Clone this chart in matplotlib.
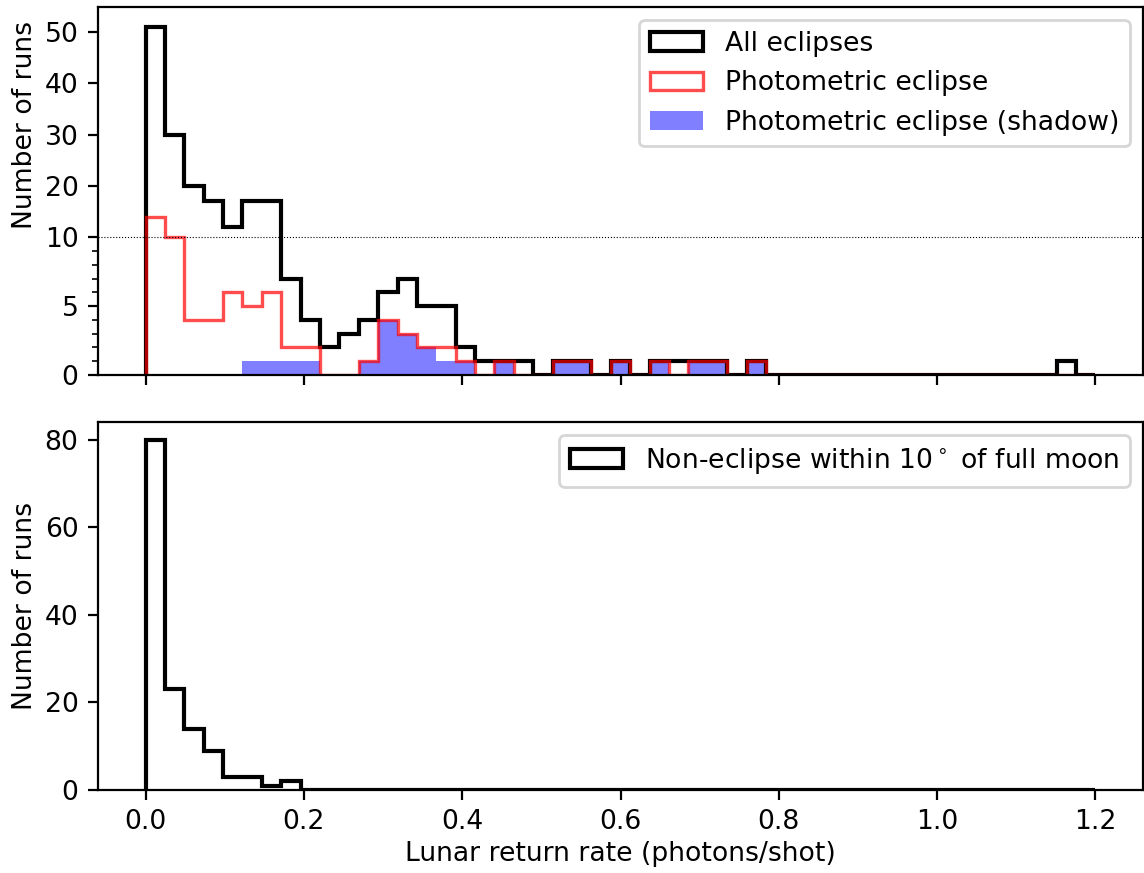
import numpy as np
import matplotlib
matplotlib.use("Agg")
import matplotlib.pyplot as plt

plt.rcParams['font.size'] = 9.6

# histogram bins (49 bins between 0 and 1.2 photons/shot)
n_bins = 49
rate_min, rate_max = 0.0, 1.2

# counts per bin
all_eclipses = [51, 30, 20, 17, 12, 17, 17, 7, 4, 2, 3, 4, 6, 7, 5, 5, 2, 1, 1, 1,
                0, 1, 1, 0, 1, 0, 1, 1, 1, 1, 0, 1, 0, 0, 0, 0, 0, 0, 0, 0,
                0, 0, 0, 0, 0, 0, 0, 1, 0]
photometric = [14, 10, 4, 4, 6, 5, 6, 2, 2, 0, 0, 1, 4, 3, 2, 2, 1, 0, 1, 0,
               0, 1, 1, 0, 1, 0, 1, 0, 1, 1, 0, 1, 0, 0, 0, 0, 0, 0, 0, 0,
               0, 0, 0, 0, 0, 0, 0, 0, 0]
shadow = [0, 0, 0, 0, 0, 1, 1, 1, 1, 0, 0, 1, 4, 3, 2, 1, 1, 0, 1, 0,
          0, 1, 1, 0, 1, 0, 1, 0, 1, 1, 0, 1, 0, 0, 0, 0, 0, 0, 0, 0,
          0, 0, 0, 0, 0, 0, 0, 0, 0]
non_eclipse = [80, 23, 14, 9, 3, 3, 1, 2, 0, 0, 0, 0, 0, 0, 0, 0, 0, 0, 0, 0,
               0, 0, 0, 0, 0, 0, 0, 0, 0, 0, 0, 0, 0, 0, 0, 0, 0, 0, 0, 0,
               0, 0, 0, 0, 0, 0, 0, 0, 0]

edges = np.linspace(rate_min, rate_max, n_bins + 1)
lefts = edges[:-1]

# piecewise linear y scale: compressed above 10
brk, squash = 10.0, 2.69


def forward(y):
    y = np.asarray(y, dtype=float)
    return np.where(y < brk, y, brk + (y - brk) / squash)


def inverse(y):
    y = np.asarray(y, dtype=float)
    return np.where(y < brk, y, brk + (y - brk) * squash)


fig = plt.figure(figsize=(5.72, 4.365), dpi=200)
ax1 = fig.add_axes([0.0857, 0.5704, 0.9134, 0.4216])
ax2 = fig.add_axes([0.0857, 0.0951, 0.9134, 0.4215], sharex=ax1)

ax1.set_yscale('function', functions=(forward, inverse))
ax1.hist(lefts, bins=edges, weights=all_eclipses, histtype='step',
         color='k', lw=1.5, label='All eclipses')
ax1.hist(lefts, bins=edges, weights=photometric, histtype='step',
         color='red', alpha=0.7, lw=1.2, label='Photometric eclipse')
ax1.hist(lefts, bins=edges, weights=shadow, histtype='stepfilled',
         color='blue', alpha=0.5, label='Photometric eclipse (shadow)')
ax1.axhline(10, color='k', ls=':', lw=0.4)
ax1.set_yticks([0, 5, 10, 20, 30, 40, 50])
ax1.set_yticks([1, 2, 3, 4, 6, 7, 8, 9], minor=True)
ax1.set_ylim(0, 54.9)
ax1.set_ylabel('Number of runs')
ax1.yaxis.set_label_coords(-0.057, 0.679)
ax1.tick_params(labelbottom=False)
ax1.legend(loc='upper right')

ax2.hist(lefts, bins=edges, weights=non_eclipse, histtype='step',
         color='k', lw=1.5, label=r'Non-eclipse within 10$^\circ$ of full moon')
ax2.set_ylim(0, 84)
ax2.set_yticks([0, 20, 40, 60, 80])
ax2.set_xlim(-0.06, 1.26)
ax2.set_xlabel('Lunar return rate (photons/shot)', labelpad=2)
ax2.set_ylabel('Number of runs')
ax2.yaxis.set_label_coords(-0.057, 0.5)
ax2.legend(loc='upper right')

fig.savefig('out.png', dpi=200)
